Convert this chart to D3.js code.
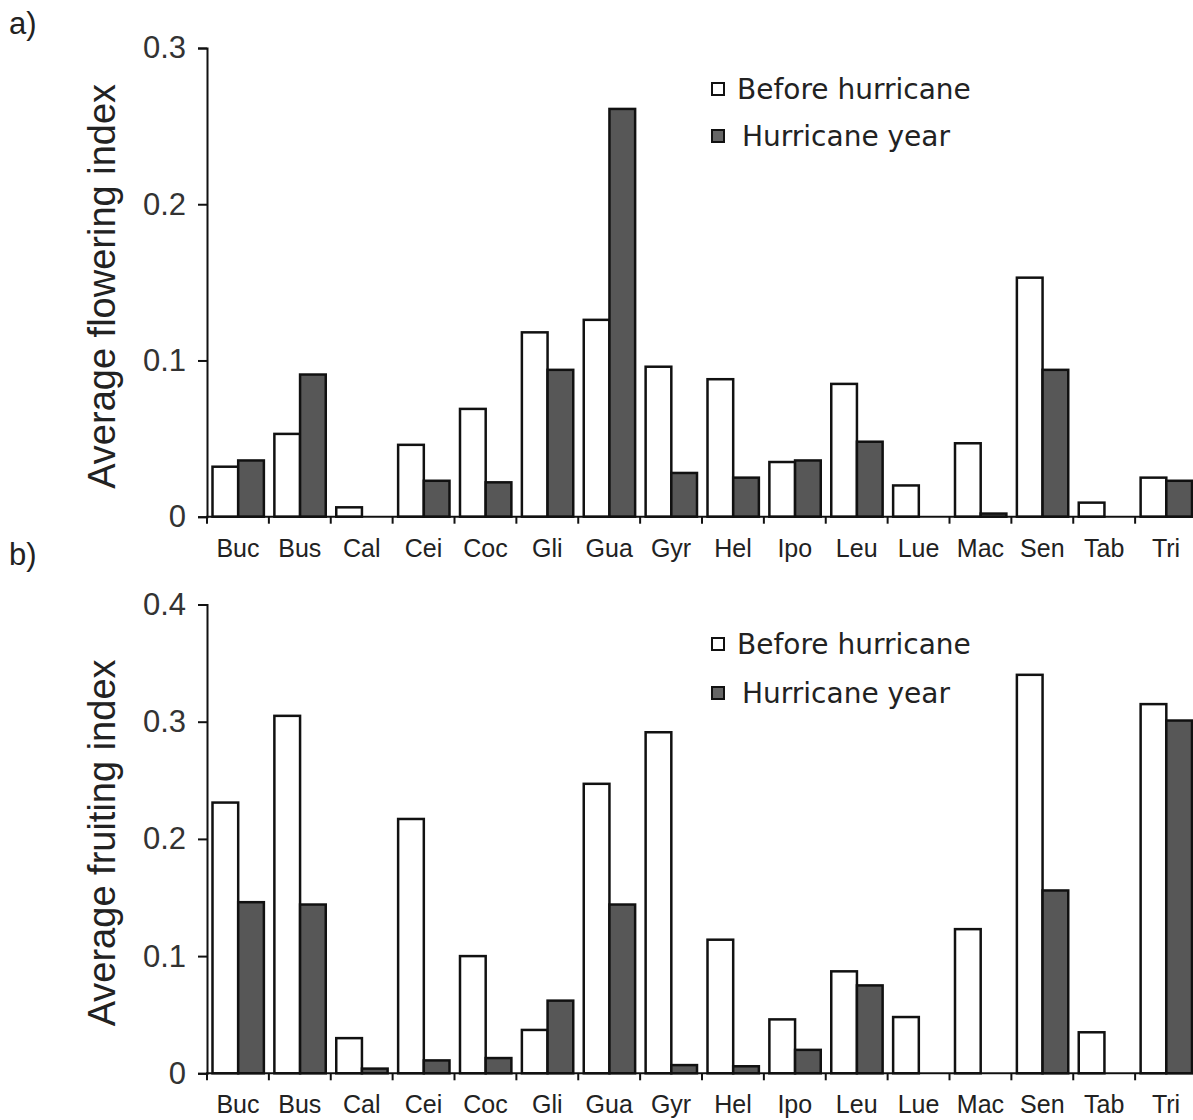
<!DOCTYPE html>
<html lang="en">
<head>
<meta charset="UTF-8">
<title>Flowering and fruiting index</title>
<style>
    body { margin: 0; background: #fff; }
    svg { display: block; }
    .tick text { font-family: "Liberation Sans", Arial, sans-serif; fill: #222; }
    .legend text { font-family: "DejaVu Sans", Verdana, sans-serif; fill: #222; }
</style>
</head>
<body>
<svg id="chart" width="1193" height="1120"></svg>
<script src="https://d3js.org/d3.v7.min.js"></script>
<script>
    // species codes (x axis)
    const species = ["Buc", "Bus", "Cal", "Cei", "Coc", "Gli", "Gua", "Gyr",
                     "Hel", "Ipo", "Leu", "Lue", "Mac", "Sen", "Tab", "Tri"];
    const seriesNames = ["Before hurricane", "Hurricane year"];

    // a) average flowering index
    const flowerBefore = [0.032, 0.053, 0.006, 0.046, 0.069, 0.118, 0.126, 0.096,
                          0.088, 0.035, 0.085, 0.020, 0.047, 0.153, 0.009, 0.025];
    const flowerHurricane = [0.036, 0.091, 0, 0.023, 0.022, 0.094, 0.261, 0.028,
                             0.025, 0.036, 0.048, 0, 0.002, 0.094, 0, 0.023];
    const flowerTicks = [0, 0.1, 0.2, 0.3];

    // b) average fruiting index
    const fruitBefore = [0.231, 0.305, 0.030, 0.217, 0.100, 0.037, 0.247, 0.291,
                         0.114, 0.046, 0.087, 0.048, 0.123, 0.340, 0.035, 0.315];
    const fruitHurricane = [0.146, 0.144, 0.004, 0.011, 0.013, 0.062, 0.144, 0.007,
                            0.006, 0.020, 0.075, 0, 0, 0.156, 0, 0.301];
    const fruitTicks = [0, 0.1, 0.2, 0.3, 0.4];

    const fills = ["#ffffff", "#575757"];
    const svg = d3.select("#chart");

    function panel(opts) {
        const { letter, letterY, yTop, yBottom, maxY, ticks, before, hurricane, label, legendY } = opts;

        const x = d3.scaleBand().domain(species).range([207, 1197]);
        const inner = d3.scaleBand().domain(seriesNames).range([5.5, x.bandwidth() - 5]);
        const y = d3.scaleLinear().domain([0, maxY]).range([yBottom, yTop]);

        const g = svg.append("g");

        g.append("text")
            .attr("x", 9).attr("y", letterY)
            .style("font-family", "Liberation Sans, Arial, sans-serif")
            .style("font-size", "31px").style("fill", "#222")
            .text(letter);

        // bars
        const rows = species.map((s, i) => ({ s, vals: [before[i], hurricane[i]] }));
        g.selectAll(".grp")
            .data(rows)
            .join("g")
            .attr("transform", d => `translate(${x(d.s)},0)`)
            .selectAll("rect")
            .data(d => d.vals.map((v, k) => ({ k, v })).filter(e => e.v > 0))
            .join("rect")
            .attr("x", e => inner(seriesNames[e.k]))
            .attr("width", inner.bandwidth())
            .attr("y", e => y(e.v))
            .attr("height", e => y(0) - y(e.v))
            .attr("fill", e => fills[e.k])
            .attr("stroke", "#111")
            .attr("stroke-width", 2.5);

        // y axis
        const ya = g.append("g")
            .attr("transform", "translate(207,0)")
            .call(d3.axisLeft(y).tickValues(ticks).tickSize(9).tickPadding(12)
                .tickFormat(d => d === 0 ? "0" : d3.format(".1f")(d)));
        ya.select(".domain").attr("stroke", "#111").attr("stroke-width", 2);
        ya.selectAll(".tick line").attr("stroke", "#111").attr("stroke-width", 2);
        ya.selectAll(".tick text").style("font-size", "31px").style("fill", "#333");

        // x axis: ticks at category boundaries, labels centred
        const xa = g.append("g").attr("transform", `translate(0,${yBottom})`);
        xa.append("line")
            .attr("x1", 206).attr("x2", 1197)
            .attr("stroke", "#111").attr("stroke-width", 2);
        xa.selectAll(".bt")
            .data(species)
            .join("line")
            .attr("x1", d => x(d)).attr("x2", d => x(d))
            .attr("y1", 0).attr("y2", 7)
            .attr("stroke", "#111").attr("stroke-width", 2);
        xa.selectAll(".lab")
            .data(species)
            .join("text")
            .attr("x", d => x(d) + x.bandwidth() / 2)
            .attr("y", 40)
            .attr("text-anchor", "middle")
            .style("font-family", "Liberation Sans, Arial, sans-serif")
            .style("font-size", "25px").style("fill", "#222")
            .text(d => d);

        // y label
        g.append("text")
            .attr("transform", `translate(115,${(yTop + yBottom) / 2 + 4}) rotate(-90)`)
            .attr("text-anchor", "middle")
            .style("font-family", "Liberation Sans, Arial, sans-serif")
            .style("font-size", "38px").style("fill", "#222")
            .text(label);

        // legend
        const lg = g.append("g").attr("class", "legend");
        seriesNames.forEach((n, k) => {
            const cy = legendY[k];
            lg.append("rect")
                .attr("x", 712).attr("y", cy - 6)
                .attr("width", 12).attr("height", 12)
                .attr("fill", k === 0 ? "#fff" : "#666")
                .attr("stroke", "#111").attr("stroke-width", 2);
            lg.append("text")
                .attr("x", k === 0 ? 737 : 742).attr("y", cy)
                .attr("dy", "0.36em")
                .style("font-size", "28px")
                .text(n);
        });
    }

    panel({
        letter: "a)", letterY: 34, yTop: 48, yBottom: 516.7, maxY: 0.3,
        ticks: flowerTicks, before: flowerBefore, hurricane: flowerHurricane,
        label: "Average flowering index", legendY: [89, 136]
    });

    panel({
        letter: "b)", letterY: 565, yTop: 604.5, yBottom: 1073.3, maxY: 0.4,
        ticks: fruitTicks, before: fruitBefore, hurricane: fruitHurricane,
        label: "Average fruiting index", legendY: [644, 693]
    });
</script>
</body>
</html>
